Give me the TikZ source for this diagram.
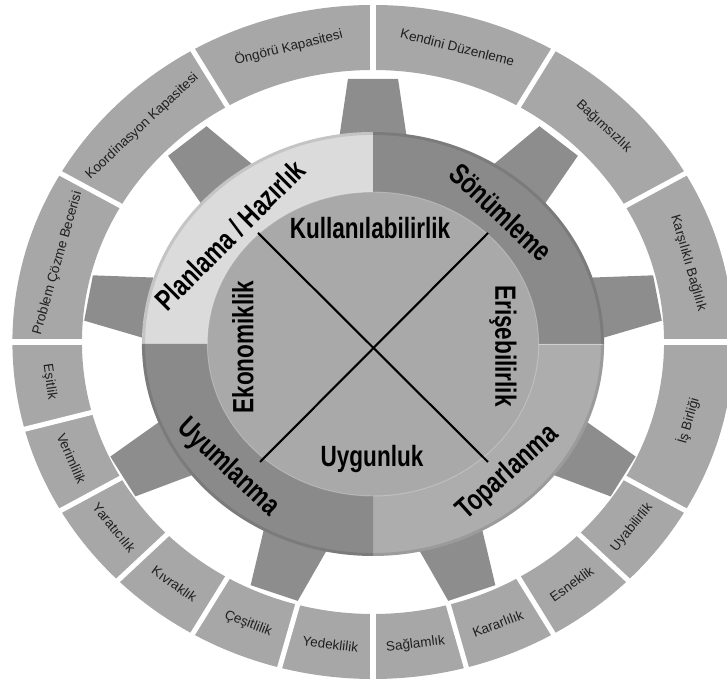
\documentclass[tikz,border=0pt]{standalone}
\usepackage{fontspec}
\usepackage{graphicx}
\setmainfont{Liberation Sans}

\definecolor{segfill}{HTML}{A7A7A7}
\definecolor{toothfill}{HTML}{8D8D8D}
\definecolor{planfill}{HTML}{DBDBDB}
\definecolor{sonfill}{HTML}{8A8A8A}
\definecolor{topfill}{HTML}{ADADAD}
\definecolor{uyufill}{HTML}{8A8A8A}
\definecolor{discfill}{HTML}{A9A9A9}

% narrow bold lettering for the gear labels
\newcommand{\narrowlabel}[1]{\scalebox{0.77}[1]{#1}}

\begin{document}
\begin{tikzpicture}[x=0.03cm, y=0.03cm,
  segtext/.style={font=\fontsize{11.5}{13}\selectfont, text=black!88, inner sep=0pt},
  bigtext/.style={font=\bfseries\fontsize{25}{28}\selectfont, text=black, inner sep=0pt},
  xline/.style={black, line width=1.8pt},
  sepline/.style={white, line width=4.3pt}]

\useasboundingbox (0,0) rectangle (727,681);
\clip (0,0) rectangle (727,681);

% ---------- outer ring of capacities ----------
\begin{scope}[shift={(373,339)}, xscale=1.07]
  \fill[segfill, even odd rule] (0,0) circle (337) (0,0) circle (272);
  \foreach \a in {0,30,60,90,120,150,180,195,210,225,240,255,270,285,300,315,330}
    \draw[sepline] (\a:269) -- (\a:345);

  % upper half: text tops point outward
  \foreach \a/\t [count=\i] in {165/Problem Çözme Becerisi, 135/Koordinasyon Kapasitesi,
      105/Öngörü Kapasitesi, 75/Kendini Düzenleme, 45/Bağımsızlık, 15/Karşılıklı Bağlılık}
    \node[segtext, rotate={atan2(-cos(\a), 1.07*sin(\a))}] (up\i) at (\a:305) {\t};

  % lower half: text tops point inward
  \foreach \a/\t [count=\i] in {-15/İş Birliği, -37.5/Uyabilirlik, -52.5/Esneklik,
      -67.5/Kararlılık, -82.5/Sağlamlık, -97.5/Yedeklilik, -112.5/Çeşitlilik,
      -127.5/Kıvraklık, -142.5/Yaratıcılık, -157.5/Verimlilik, -172.5/Eşitlik}
    \node[segtext, rotate={atan2(cos(\a), -1.07*sin(\a))}] (lo\i) at (\a:305) {\t};
\end{scope}

% ---------- gear ----------
\begin{scope}[shift={(373,337)}, xscale=1.09]
  % teeth
  \foreach \a in {90,130,170,210,250,290,330,370,410}
    \fill[toothfill, rotate=\a] (195,-32.5) -- (265,-23) -- (265,23) -- (195,32.5) -- cycle;
  % four quadrants of the rim
  \fill[planfill] (0,0) -- (90:212) arc[start angle=90, end angle=180, radius=212] -- cycle;
  \fill[sonfill] (0,0) -- (0:212) arc[start angle=0, end angle=90, radius=212] -- cycle;
  \fill[topfill] (0,0) -- (270:212) arc[start angle=270, end angle=360, radius=212] -- cycle;
  \fill[uyufill] (0,0) -- (180:212) arc[start angle=180, end angle=270, radius=212] -- cycle;
  \draw[black, opacity=0.10, line width=2.5pt] (0,0) circle (210.5);
  \draw[white, opacity=0.45, line width=0.8pt] (0:152) -- (0:211);
  % inner disc
  \fill[discfill] (0,0) circle (152);
  \draw[white, opacity=0.25, line width=0.8pt] (0,0) circle (152);
\end{scope}

% ---------- cross ----------
\coordinate (xtl) at (258,448);
\coordinate (xbr) at (488,219);
\coordinate (xtr) at (488,448);
\coordinate (xbl) at (260,219);
\draw[xline] (xtl) -- (xbr);
\draw[xline] (xtr) -- (xbl);

% ---------- inner labels ----------
\node[bigtext] (kul) at (370,452.5) {\narrowlabel{Kullanılabilirlik}};
\node[bigtext, anchor=base] (uyg) at (372,214) {\narrowlabel{Uygunluk}};
\node[bigtext, rotate=90] (eko) at (243,334) {\narrowlabel{Ekonomiklik}};
\node[bigtext, rotate=-90] (eri) at (503,335) {\narrowlabel{Erişebilirlik}};

% ---------- rim labels ----------
\node[bigtext, rotate=45] (pla) at (230,446) {\narrowlabel{Planlama / Hazırlık}};
\node[bigtext, rotate=-43] (son) at (501,469) {\narrowlabel{Sönümleme}};
\node[bigtext, rotate=42] (top) at (508,208) {\narrowlabel{Toparlanma}};
\node[bigtext, rotate=-43] (uyu) at (228,213) {\narrowlabel{Uyumlanma}};

\end{tikzpicture}
\end{document}
